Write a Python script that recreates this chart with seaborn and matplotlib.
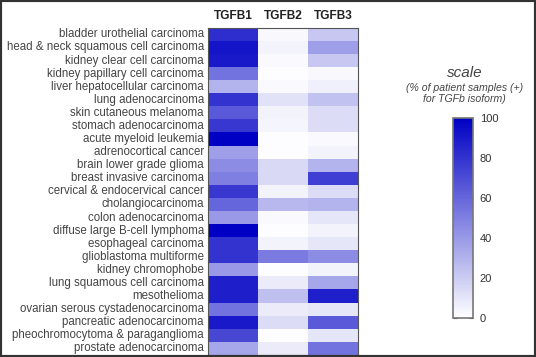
import matplotlib
matplotlib.use("Agg")
import matplotlib.pyplot as plt
import seaborn as sns
import pandas as pd
import numpy as np
from matplotlib.colors import LinearSegmentedColormap
from matplotlib.patches import Rectangle

cancers = [
    "bladder urothelial carcinoma",
    "head & neck squamous cell carcinoma",
    "kidney clear cell carcinoma",
    "kidney papillary cell carcinoma",
    "liver hepatocellular carcinoma",
    "lung adenocarcinoma",
    "skin cutaneous melanoma",
    "stomach adenocarcinoma",
    "acute myeloid leukemia",
    "adrenocortical cancer",
    "brain lower grade glioma",
    "breast invasive carcinoma",
    "cervical & endocervical cancer",
    "cholangiocarcinoma",
    "colon adenocarcinoma",
    "diffuse large B-cell lymphoma",
    "esophageal carcinoma",
    "glioblastoma multiforme",
    "kidney chromophobe",
    "lung squamous cell carcinoma",
    "mesothelioma",
    "ovarian serous cystadenocarcinoma",
    "pancreatic adenocarcinoma",
    "pheochromocytoma & paraganglioma",
    "prostate adenocarcinoma",
]
isoforms = ["TGFB1", "TGFB2", "TGFB3"]

tgfb1 = [82, 92, 90, 55, 30, 80, 65, 78, 100, 38, 45, 50, 78, 60, 40, 100, 80, 80, 40, 88, 88, 55, 90, 72, 35]
tgfb2 = [3, 5, 2, 1, 2, 12, 5, 4, 1, 1, 15, 15, 5, 28, 2, 1, 5, 52, 1, 8, 25, 8, 14, 1, 8]
tgfb3 = [22, 38, 22, 3, 6, 24, 14, 14, 2, 5, 30, 75, 14, 30, 10, 5, 10, 45, 5, 35, 88, 10, 65, 10, 55]

df = pd.DataFrame({"TGFB1": tgfb1, "TGFB2": tgfb2, "TGFB3": tgfb3}, index=cancers)[isoforms]

cmap = LinearSegmentedColormap.from_list("wb", ["#ffffff", "#0000c4"])

sns.set_style("white")
plt.rcParams["font.family"] = ["Liberation Sans", "DejaVu Sans"]

fig = plt.figure(figsize=(5.36, 3.57), dpi=100)
ax = fig.add_axes([0.388, 0.006, 0.280, 0.916])
cax = fig.add_axes([0.845, 0.109, 0.037, 0.560])

sns.heatmap(df, ax=ax, cmap=cmap, vmin=0, vmax=100, cbar=True, cbar_ax=cax,
            linewidths=0, xticklabels=True, yticklabels=True)

ax.xaxis.tick_top()
ax.set_xticklabels(isoforms, fontsize=8.6, fontweight="bold", color="#222222")
ax.set_yticklabels(cancers, fontsize=8.3, color="#444444", rotation=0)
ax.tick_params(axis="both", length=0, pad=3)
ax.tick_params(axis="x", pad=4)
for s in ax.spines.values():
    s.set_visible(True)
    s.set_color("#555555")
    s.set_linewidth(0.8)

cax.set_yticks([0, 20, 40, 60, 80, 100])
cax.tick_params(direction="in", left=True, right=True, length=3, width=0.8,
                labelsize=8, colors="#333333", pad=5)
cbar = ax.collections[0].colorbar
cbar.outline.set_edgecolor("#777777")
cbar.outline.set_linewidth(1.2)

fig.text(0.867, 0.795, "scale", fontsize=11, style="italic", ha="center", va="center",
         color="#444444")
fig.text(0.867, 0.737, "(% of patient samples (+)\nfor TGFb isoform)", fontsize=7.6,
         style="italic", ha="center", va="center", color="#444444", linespacing=1.1)

fig.patches.append(Rectangle((0, 0), 1, 1, transform=fig.transFigure, fill=False,
                             edgecolor="#333333", linewidth=3))

fig.savefig("out.png", dpi=100)
